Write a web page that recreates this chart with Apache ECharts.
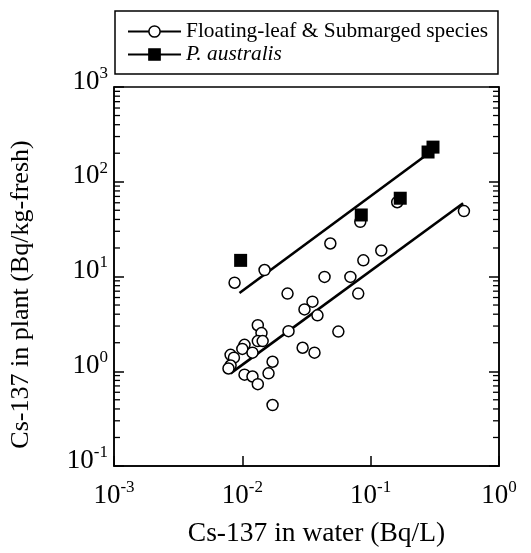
<!DOCTYPE html>
<html><head><meta charset="utf-8">
<script src="https://cdn.jsdelivr.net/npm/echarts@6/dist/echarts.min.js"></script>
<style>html,body{margin:0;padding:0;background:#fff}#c{width:531px;height:553px}</style>
</head><body><div id="c"></div>
<script>
// Floating-leaf & Submerged species (open circles)
const floatingX = [0.0087, 0.0149, 0.0485, 0.0437, 0.083, 0.161, 0.533, 0.121, 0.0877, 0.0695,
  0.080, 0.056, 0.0225, 0.0352, 0.0305, 0.0385, 0.0229, 0.0295, 0.0365, 0.0132,
  0.0141, 0.0132, 0.0144, 0.0104, 0.0100, 0.012, 0.0081, 0.0086, 0.0081, 0.0078,
  0.0172, 0.016, 0.0104, 0.012, 0.0132, 0.0172];
const floatingY = [8.6, 11.7, 22.3, 9.9, 37.8, 60.8, 49, 18.8, 14.8, 9.9,
  6.6, 2.62, 6.6, 5.43, 4.49, 3.89, 2.65, 1.77, 1.57, 3.06,
  2.53, 2.08, 2.08, 1.90, 1.72, 1.57, 1.49, 1.39, 1.15, 1.07,
  1.26, 0.95, 0.92, 0.88, 0.73, 0.44];
// P. australis (filled squares)
const australisX = [0.0097, 0.0845, 0.17, 0.28, 0.306];
const australisY = [14.8, 44.6, 67, 206, 232];
// regression lines (end points)
const fitFloatingX = [0.0081, 0.525];
const fitFloatingY = [0.95, 59.4];
const fitAustralisX = [0.0095, 0.265];
const fitAustralisY = [6.7, 187];
// axes
const X_MIN = 0.001, X_MAX = 1;
const Y_MIN = 0.1, Y_MAX = 1000;
const yMinorTicks = [0.2,0.3,0.4,0.5,0.6,0.7,0.8,0.9, 2,3,4,5,6,7,8,9, 20,30,40,50,60,70,80,90, 200,300,400,500,600,700,800,900];
const seriesNames = ['Floating-leaf & Submarged species', 'P. australis'];
const xTitle = 'Cs-137 in water (Bq/L)';
const yTitle = 'Cs-137 in plant (Bq/kg-fresh)';

const FONT = '"Liberation Serif", "Times New Roman", serif';
const pairs = (xs, ys) => xs.map((x, i) => [x, ys[i]]);
const expLabel = v => '{b|10}{s|' + Math.round(Math.log10(v)) + '}';
const richLab = {
  b: {fontSize: 27, fontFamily: FONT, color: '#000', lineHeight: 30, verticalAlign: 'bottom'},
  s: {fontSize: 17, fontFamily: FONT, color: '#000', lineHeight: 30, verticalAlign: 'top'}
};

const chart = echarts.init(document.getElementById('c'), null, {renderer: 'canvas'});
chart.setOption({
  animation: false,
  backgroundColor: '#fff',
  grid: {left: 113, right: 32, top: 87, bottom: 81, show: true, borderColor: '#000', borderWidth: 1.5},
  legend: {
    left: 115, top: 11, orient: 'vertical',
    padding: [10, 10, 9, 12], itemGap: 2,
    itemWidth: 53, itemHeight: 14,
    borderColor: '#000', borderWidth: 1.5,
    textStyle: {fontFamily: FONT, fontSize: 21.4, color: '#000'},
    lineStyle: {width: 2, color: '#000'},
    itemStyle: {borderWidth: 1.5},
    data: [{name: seriesNames[0]}, {name: seriesNames[1], textStyle: {fontStyle: 'italic'}}]
  },
  xAxis: [{
    type: 'log', logBase: 10, min: X_MIN, max: X_MAX,
    name: xTitle, nameLocation: 'middle', nameGap: 54,
    nameTextStyle: {fontFamily: FONT, fontSize: 27.5, color: '#000', padding: [0, 0, 0, 20]},
    axisLine: {show: true, lineStyle: {color: '#000', width: 1.5}},
    axisTick: {show: true, inside: true, length: 10, lineStyle: {color: '#000', width: 1.5}},
    minorTick: {show: false},
    splitLine: {show: false},
    axisLabel: {margin: 13, formatter: expLabel, rich: richLab}
  }],
  yAxis: [{
    type: 'log', logBase: 10, min: Y_MIN, max: Y_MAX,
    name: yTitle, nameLocation: 'middle', nameGap: 80,
    nameTextStyle: {fontFamily: FONT, fontSize: 26, color: '#000', padding: [0, 36, 0, 0]},
    axisLine: {show: true, lineStyle: {color: '#000', width: 1.5}},
    axisTick: {show: true, inside: true, length: 10, lineStyle: {color: '#000', width: 1.5}},
    splitLine: {show: false},
    axisLabel: {margin: 6, formatter: expLabel, rich: richLab, padding: [0, 0, 14, 0]}
  }, {
    type: 'log', logBase: 10, min: Y_MIN, max: Y_MAX, position: 'right',
    axisLine: {show: true, lineStyle: {color: '#000', width: 1.5}},
    axisTick: {show: true, inside: true, length: 10, lineStyle: {color: '#000', width: 1.5}},
    axisLabel: {show: false}, splitLine: {show: false}
  }],
  series: [
    {
      name: 'minorTicks', type: 'custom', silent: true, clip: false, z: 1,
      data: yMinorTicks.map(v => [X_MIN, v]),
      renderItem: function (params, api) {
        const v = api.value(1);
        const l = api.coord([X_MIN, v]);
        const r = api.coord([X_MAX, v]);
        return {type: 'group', children: [
          {type: 'line', shape: {x1: l[0], y1: l[1], x2: l[0] + 6, y2: l[1]}, style: {stroke: '#000', lineWidth: 1.3}},
          {type: 'line', shape: {x1: r[0], y1: r[1], x2: r[0] - 6, y2: r[1]}, style: {stroke: '#000', lineWidth: 1.3}}
        ]};
      }
    },
    {
      name: 'fitAustralis', type: 'line', symbol: 'none', silent: true, z: 2,
      data: pairs(fitAustralisX, fitAustralisY),
      lineStyle: {color: '#000', width: 2.6}
    },
    {
      name: 'fitFloating', type: 'line', symbol: 'none', silent: true, z: 2,
      data: pairs(fitFloatingX, fitFloatingY),
      lineStyle: {color: '#000', width: 2.6}
    },
    {
      name: seriesNames[0], type: 'line', z: 3,
      data: pairs(floatingX, floatingY),
      symbol: 'circle', symbolSize: 11, showSymbol: true,
      lineStyle: {width: 0, color: '#000'},
      itemStyle: {color: '#fff', borderColor: '#000', borderWidth: 1.5}
    },
    {
      name: seriesNames[1], type: 'line', z: 4,
      data: pairs(australisX, australisY),
      symbol: 'rect', symbolSize: 13, showSymbol: true,
      lineStyle: {width: 0, color: '#000'},
      itemStyle: {color: '#000', borderColor: '#000', borderWidth: 0}
    }
  ]
});
</script>
</body></html>
